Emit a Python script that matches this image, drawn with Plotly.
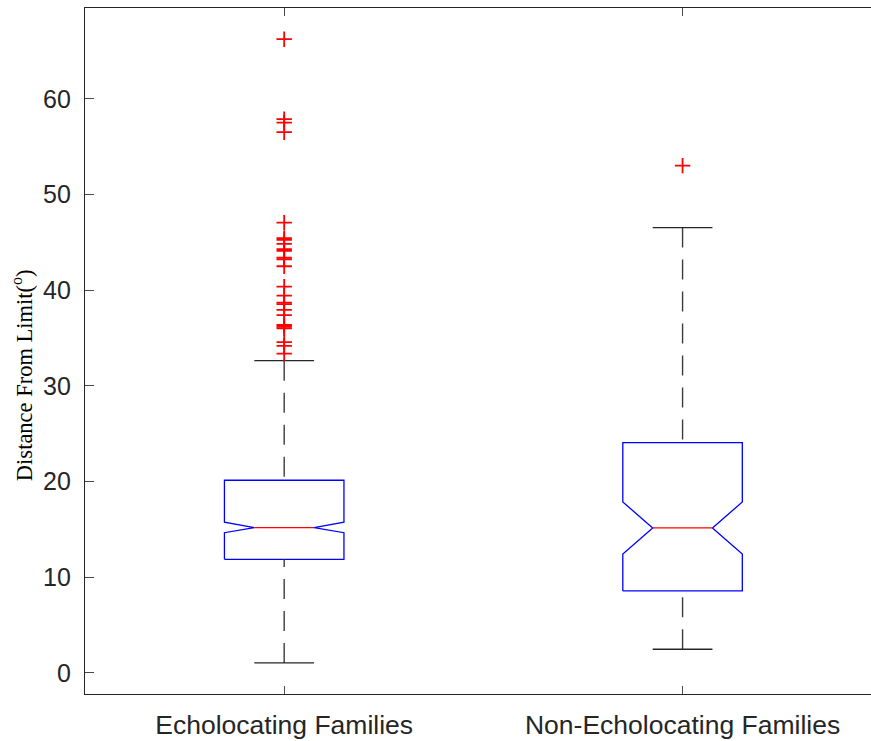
import plotly.graph_objects as go

# ---- data ----
categories = ["Echolocating Families", "Non-Echolocating Families"]
positions = [1, 2]
q1 = [11.88, 8.57]
q3 = [20.14, 24.07]
medians = [15.19, 15.16]
notch_lo = [14.66, 12.44]
notch_hi = [15.75, 17.87]
whisker_lo = [1.05, 2.48]
whisker_hi = [32.64, 46.55]
outliers_echo = [66.24, 57.88, 57.52, 56.52, 47.07, 45.44, 45.26, 44.84, 44.29,
                 44.11, 43.41, 43.24, 42.51, 40.38, 39.44, 38.71, 38.54, 37.94,
                 37.39, 36.37, 36.20, 36.03, 34.57, 34.18, 33.38]
outliers_non = [53.03]
outliers = [outliers_echo, outliers_non]
y_ticks = [0, 10, 20, 30, 40, 50, 60]

# ---- styling ----
BOX_HALF = 0.15
CAP_HALF = 0.075
NOTCH_HALF = 0.075
AX_COLOR = "#262626"

fig = go.Figure()

for i, x in enumerate(positions):
    # box outline with notch
    bx = [x - BOX_HALF, x - BOX_HALF, x - NOTCH_HALF, x - BOX_HALF, x - BOX_HALF,
          x + BOX_HALF, x + BOX_HALF, x + NOTCH_HALF, x + BOX_HALF, x + BOX_HALF,
          x - BOX_HALF]
    by = [q1[i], notch_lo[i], medians[i], notch_hi[i], q3[i],
          q3[i], notch_hi[i], medians[i], notch_lo[i], q1[i], q1[i]]
    fig.add_trace(go.Scatter(x=bx, y=by, mode="lines",
                             line=dict(color="#0000ff", width=1.3),
                             hoverinfo="skip", showlegend=False))
    # median
    fig.add_trace(go.Scatter(x=[x - NOTCH_HALF, x + NOTCH_HALF],
                             y=[medians[i], medians[i]], mode="lines",
                             line=dict(color="#ff0000", width=1.3),
                             hoverinfo="skip", showlegend=False))
    # whiskers (dashed), drawn from the cap toward the box
    fig.add_trace(go.Scatter(x=[x, x], y=[whisker_hi[i], q3[i]], mode="lines",
                             line=dict(color="#3c3c3c", width=1.4, dash="20px,12px"),
                             hoverinfo="skip", showlegend=False))
    fig.add_trace(go.Scatter(x=[x, x], y=[whisker_lo[i], q1[i]], mode="lines",
                             line=dict(color="#3c3c3c", width=1.4, dash="20px,12px"),
                             hoverinfo="skip", showlegend=False))
    # caps
    for wv in (whisker_hi[i], whisker_lo[i]):
        fig.add_trace(go.Scatter(x=[x - CAP_HALF, x + CAP_HALF], y=[wv, wv],
                                 mode="lines",
                                 line=dict(color="#262626", width=1.4),
                                 hoverinfo="skip", showlegend=False))
    # outliers
    fig.add_trace(go.Scatter(x=[x] * len(outliers[i]), y=outliers[i],
                             mode="markers",
                             marker=dict(symbol="cross-thin", size=11, color="#ff0000",
                                         line=dict(color="#ff0000", width=1.8)),
                             hoverinfo="skip", showlegend=False))

fig.update_layout(
    width=871, height=741,
    margin=dict(l=85, r=0, t=8, b=47),
    paper_bgcolor="white", plot_bgcolor="white",
    font=dict(family="Liberation Sans, Arial, sans-serif", size=25, color=AX_COLOR),
    xaxis=dict(range=[0.5, 2.473], tickvals=positions, ticktext=categories,
               tickfont=dict(size=26.5),
               ticks="inside", ticklen=8, tickwidth=1.3, tickcolor="#4a4a4a",
               showline=True, linecolor=AX_COLOR, linewidth=1.3, mirror="ticks",
               showgrid=False, zeroline=False, ticklabelstandoff=7),
    yaxis=dict(range=[-2.2, 69.5], tickvals=y_ticks,
               ticks="inside", ticklen=9, tickwidth=1.3, tickcolor="#4a4a4a",
               showline=True, linecolor=AX_COLOR, linewidth=1.3, mirror=False,
               showgrid=False, zeroline=False, ticklabelstandoff=8),
    annotations=[dict(text="Distance From Limit(<sup>o</sup>)", textangle=-90,
                      xref="paper", yref="paper", x=-0.08, y=0.465,
                      xanchor="center", yanchor="middle", showarrow=False,
                      font=dict(family="Liberation Serif, Times New Roman, serif",
                                size=22.5, color="black"))],
)

fig.write_html("out.html")
